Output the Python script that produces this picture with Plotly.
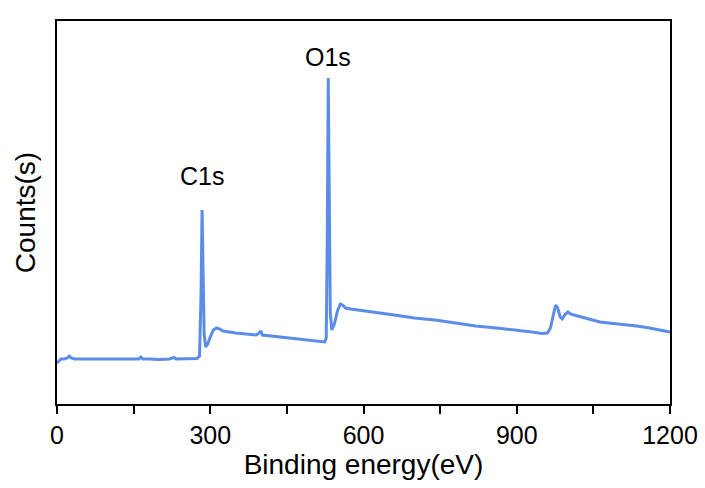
import plotly.graph_objects as go

energy = [0, 4, 8, 14, 20, 24, 28, 34, 45, 60, 80, 100, 120, 140, 160, 164, 168, 180, 200, 220,
          229, 233, 250, 265, 274, 279, 282, 284, 286, 288, 291, 295, 300, 306, 312, 318, 325, 335,
          350, 370, 390, 396, 399, 402, 420, 440, 460, 480, 500, 515, 524, 527, 529, 531, 533, 535,
          538, 543, 549, 555, 559, 565, 575, 590, 610, 632, 660, 700, 740, 780, 820, 860, 900, 930,
          950, 960, 966, 971, 976, 980, 985, 989, 994, 1000, 1005, 1012, 1020, 1040, 1063, 1080,
          1100, 1135, 1160, 1180, 1200]
counts = [41, 43, 45, 45, 46, 48, 46, 45, 45, 44.5, 45, 45, 44.5, 45, 45, 47, 45, 45, 44.5, 45,
          46.5, 45, 45, 45, 45.5, 48, 110, 194, 120, 70, 57, 60, 67, 74, 76, 75, 73, 72,
          71, 70, 69, 71, 73, 69, 68, 67, 66, 65, 63.5, 63, 62, 66, 160, 326, 170, 90,
          74, 80, 93, 100, 99, 96, 95, 94, 93, 91, 89, 86, 84, 81, 78, 76, 74, 72,
          70.5, 71, 76, 89, 99, 96, 87, 85, 89, 92, 90, 89, 88, 85, 82, 81,
          80, 78, 76, 74, 72]

peak_labels = ["C1s", "O1s"]
peak_x = [284, 531]
peak_y = [228, 347]

x_ticks = [0, 300, 600, 900, 1200]

font = "Arial, Liberation Sans, sans-serif"

fig = go.Figure()
fig.add_trace(go.Scatter(x=energy, y=counts, mode="lines",
                         line=dict(color="#5b8ce8", width=3), showlegend=False))

for t, xx, yy in zip(peak_labels, peak_x, peak_y):
    fig.add_annotation(x=xx, y=yy, text=t, showarrow=False,
                       font=dict(size=25, color="black", family=font))

fig.update_layout(
    width=705, height=488,
    margin=dict(l=57, r=35, t=21, b=84, autoexpand=False),
    paper_bgcolor="white", plot_bgcolor="white",
    font=dict(family=font, color="black"),
    xaxis=dict(range=[0, 1200], tickvals=x_ticks, ticktext=[str(v) for v in x_ticks],
               ticks="outside", ticklen=8, tickwidth=2, tickcolor="black",
               showline=True, linewidth=2, linecolor="black", mirror=True,
               showgrid=False, zeroline=False, automargin=False,
               tickfont=dict(size=25, family=font),
               minor=dict(ticks="outside", ticklen=8, tickwidth=2, tickcolor="black",
                          tickvals=[150, 450, 750, 1050]),
               title=dict(text="Binding energy(eV)", font=dict(size=28, family=font), standoff=4)),
    yaxis=dict(range=[0, 383], showticklabels=False, ticks="",
               showline=True, linewidth=2, linecolor="black", mirror=True,
               showgrid=False, zeroline=False, automargin=False,
               title=dict(text="Counts(s)", font=dict(size=28, family=font), standoff=11)),
)

fig.write_html("out.html", post_script="document.body.style.margin='0';",
               config={"displayModeBar": False})
